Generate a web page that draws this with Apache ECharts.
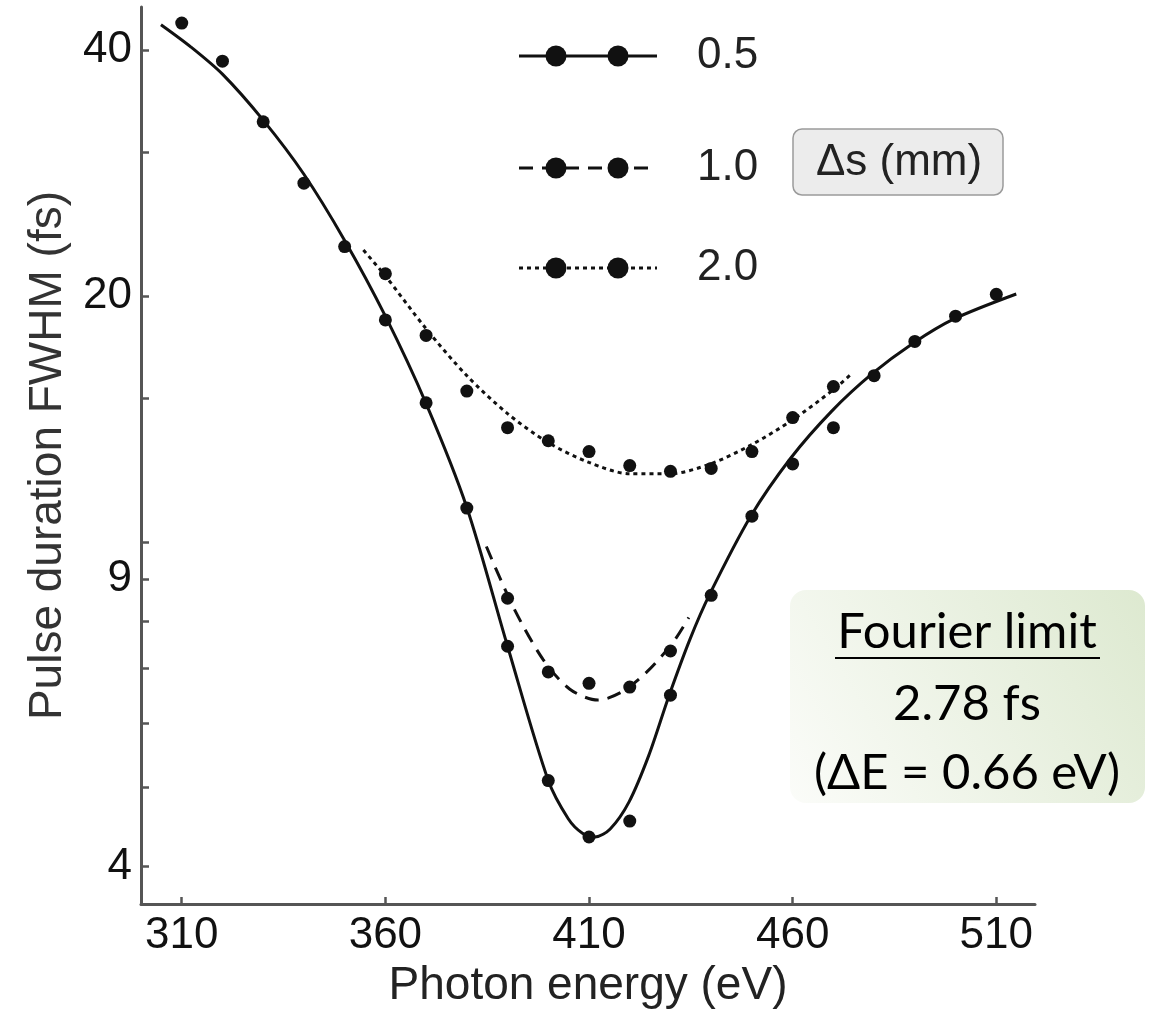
<!DOCTYPE html>
<html>
<head>
<meta charset="utf-8">
<script src="https://cdn.jsdelivr.net/npm/echarts@6/dist/echarts.min.js"></script>
<style>
  html, body { margin: 0; padding: 0; background: #ffffff; }
  #chart { width: 1155px; height: 1014px; }
</style>
</head>
<body>
<div id="chart"></div>
<script>
// Measured pulse durations (fs) versus photon energy (eV), one set per Δs
const energies05 = [310, 320, 330, 340, 350, 360, 370, 380, 390, 400, 410, 420, 430, 440, 450, 460, 470, 480, 490, 500, 510];
const dots05 = [43.2, 38.8, 32.7, 27.5, 23.0, 18.7, 14.8, 11.0, 7.45, 5.1, 4.35, 4.55, 6.49, 8.6, 10.75, 12.46, 13.8, 15.98, 17.6, 18.9, 20.1];

const energies10 = [390, 400, 410, 420, 430];
const dots10 = [8.53, 6.93, 6.71, 6.64, 7.35];

const energies20 = [360, 370, 380, 390, 400, 410, 420, 430, 440, 450, 460, 470];
const dots20 = [21.3, 17.9, 15.3, 13.8, 13.3, 12.9, 12.4, 12.2, 12.3, 12.9, 14.2, 15.5];

// Fitted curves
const fit05E = [304.9, 312.2, 320, 330, 340, 350, 360, 370, 380, 390, 400, 404.9, 408.3, 411.5, 415.2, 419.8, 424.7, 429.6, 434.8, 439.7, 449.7, 459.5, 469.6, 479.6, 489.4, 499.5, 514.9];
const fit05V = [43.0, 40.4, 37.4, 32.85, 28.2, 23.4, 18.9, 14.77, 11.02, 7.45, 5.1, 4.58, 4.40, 4.35, 4.45, 4.80, 5.48, 6.47, 7.60, 8.64, 10.75, 12.66, 14.46, 16.08, 17.49, 18.74, 20.12];

const fit10E = [384.8, 391.4, 398.7, 405.3, 412.2, 418.3, 424.2, 430.6, 434.5];
const fit10V = [9.87, 8.32, 7.18, 6.60, 6.40, 6.56, 6.93, 7.53, 8.08];

const fit20E = [354.6, 360, 370, 380, 390, 400, 410, 420, 430, 440, 450, 460, 470, 474.7];
const fit20V = [22.77, 21.17, 18.24, 15.98, 14.36, 13.23, 12.51, 12.12, 12.12, 12.47, 13.16, 14.11, 15.36, 16.11];

// Axis ticks
const xTickValues = [310, 360, 410, 460, 510];
const yTickValues = [4, 5, 6, 7, 8, 9, 10, 15, 20, 30, 40];
const yLabelValues = [4, 9, 20, 40];

const legendLabels = ['0.5', '1.0', '2.0'];
const legendTitle = '\u0394s (mm)';
const noteLines = ['Fourier limit', '2.78 fs', '(\u0394E = 0.66 eV)'];

const INK = '#111111';
const AXIS = '#555555';
const FONT = '"Liberation Sans", Arial, sans-serif';
const NOTE_FONT = '49px Lato, "Noto Sans", sans-serif';
const lineTypes = ['solid', [14, 9], [4, 4]];

const pairs = (xs, ys) => xs.map((x, i) => [x, ys[i]]);

const chart = echarts.init(document.getElementById('chart'), null, { renderer: 'canvas' });

function fitSeries(name, xs, ys, type) {
  return {
    name: name, type: 'line', data: pairs(xs, ys), smooth: 0.3,
    showSymbol: false, silent: true, z: 2,
    lineStyle: { color: INK, width: 3, type: type }
  };
}
function dotSeries(name, xs, ys) {
  return {
    name: name, type: 'scatter', data: pairs(xs, ys), symbol: 'circle',
    symbolSize: 13, z: 3, itemStyle: { color: INK, opacity: 1 }
  };
}

// Legend rows: line with two dots and the Δs value
const legendGraphics = [];
const rowY = [56, 168, 268];
legendLabels.forEach((lab, i) => {
  legendGraphics.push({
    type: 'line', shape: { x1: 519, y1: rowY[i], x2: 657, y2: rowY[i] },
    style: { stroke: INK, lineWidth: 3, lineDash: lineTypes[i] === 'solid' ? null : lineTypes[i] }
  });
  [556, 618].forEach(cx => legendGraphics.push({
    type: 'circle', shape: { cx: cx, cy: rowY[i], r: 10.5 }, style: { fill: INK }
  }));
  legendGraphics.push({
    type: 'text', x: 697, y: rowY[i],
    style: { text: lab, font: '44px ' + FONT, fill: '#222', verticalAlign: 'middle', textAlign: 'left' }
  });
});
legendGraphics.push({
  type: 'rect', shape: { x: 793, y: 129, width: 210, height: 66, r: 9 },
  style: { fill: '#ececec', stroke: '#9a9a9a', lineWidth: 1.5 }
});
legendGraphics.push({
  type: 'text', x: 899, y: 163,
  style: { text: legendTitle, font: '44px ' + FONT, fill: '#222', verticalAlign: 'middle', textAlign: 'center' }
});

// Fourier-limit note
const noteGraphics = [
  {
    type: 'rect', shape: { x: 790, y: 590, width: 355, height: 213, r: 16 },
    style: {
      fill: new echarts.graphic.LinearGradient(0, 1, 1, 0, [
        { offset: 0, color: '#fbfcf9' },
        { offset: 1, color: '#dde9d0' }
      ])
    }
  },
  { type: 'text', x: 967, y: 632, style: { text: noteLines[0], font: NOTE_FONT, fill: '#000', textAlign: 'center', verticalAlign: 'middle' } },
  { type: 'line', shape: { x1: 835, y1: 658, x2: 1100, y2: 658 }, style: { stroke: '#000', lineWidth: 2 } },
  { type: 'text', x: 967, y: 704, style: { text: noteLines[1], font: NOTE_FONT, fill: '#000', textAlign: 'center', verticalAlign: 'middle' } },
  { type: 'text', x: 967, y: 773, style: { text: noteLines[2], font: NOTE_FONT, fill: '#000', textAlign: 'center', verticalAlign: 'middle' } }
];

const option = {
  animation: false,
  backgroundColor: '#ffffff',
  grid: { left: 141, right: 120, top: 7, bottom: 109 },
  xAxis: {
    type: 'value', min: 300, max: 519.5,
    name: 'Photon energy (eV)', nameLocation: 'middle', nameGap: 52,
    nameTextStyle: { fontFamily: FONT, fontSize: 46, color: '#222' },
    axisLine: { show: true, lineStyle: { color: AXIS, width: 3 } },
    axisTick: { show: true, inside: true, length: 7, customValues: xTickValues, lineStyle: { color: AXIS, width: 2.5 } },
    axisLabel: { customValues: xTickValues, fontFamily: FONT, fontSize: 44, color: '#111', margin: 10 },
    splitLine: { show: false }
  },
  yAxis: {
    type: 'log', logBase: 10, min: 3.6, max: 45.2,
    name: 'Pulse duration FWHM (fs)', nameLocation: 'middle', nameGap: 70,
    nameTextStyle: { fontFamily: FONT, fontSize: 46, color: '#333' },
    axisLine: { show: true, lineStyle: { color: AXIS, width: 3 } },
    axisTick: { show: true, inside: true, length: 8, customValues: yTickValues, lineStyle: { color: AXIS, width: 2.5 } },
    axisLabel: { customValues: yLabelValues, fontFamily: FONT, fontSize: 44, color: '#111', margin: 9 },
    splitLine: { show: false },
    minorTick: { show: false }
  },
  series: [
    fitSeries(legendLabels[0], fit05E, fit05V, lineTypes[0]),
    fitSeries(legendLabels[1], fit10E, fit10V, lineTypes[1]),
    fitSeries(legendLabels[2], fit20E, fit20V, lineTypes[2]),
    dotSeries(legendLabels[0], energies05, dots05),
    dotSeries(legendLabels[1], energies10, dots10),
    dotSeries(legendLabels[2], energies20, dots20)
  ],
  graphic: legendGraphics.concat(noteGraphics)
};

chart.setOption(option);
</script>
</body>
</html>
